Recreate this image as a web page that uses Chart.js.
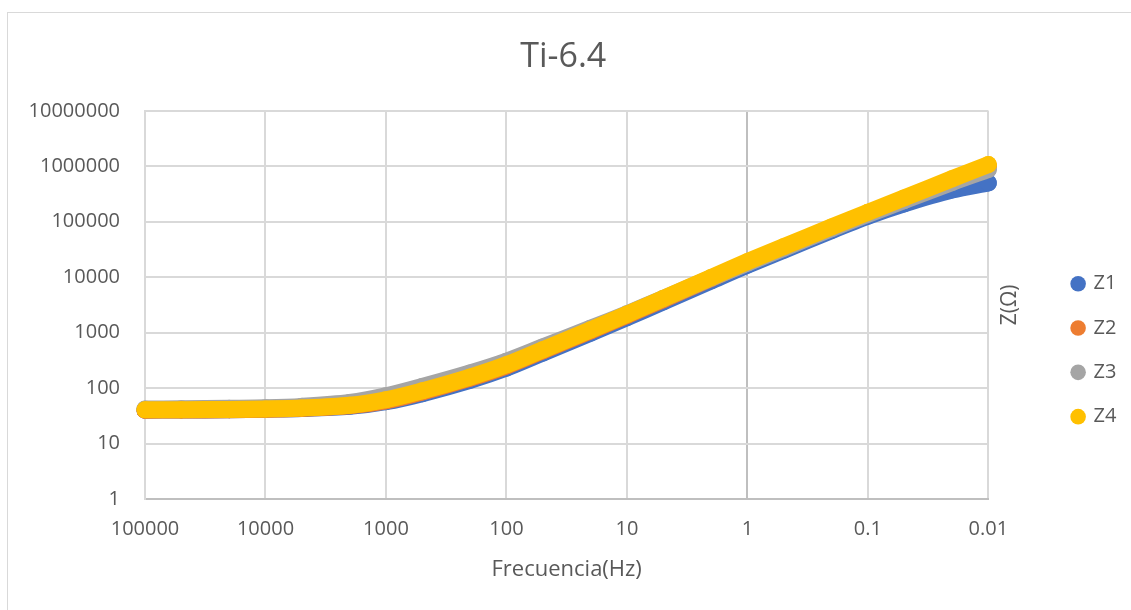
<!DOCTYPE html>
<html lang="es">

<head>
  <meta charset="UTF-8">
  <title>Ti-6.4</title>
  <script src="https://cdn.jsdelivr.net/npm/chart.js"></script>
  <style>
    body {
      margin: 0;
      background: #fff;
      overflow: hidden;
    }

    .frame {
      position: absolute;
      left: 7px;
      top: 12px;
      width: 1200px;
      height: 700px;
      border: 1px solid #d9d9d9;
    }

    .chart-box {
      position: absolute;
      left: 0;
      top: 0;
      width: 1131px;
      height: 610px;
    }
  </style>
</head>

<body>
  <div class="frame"></div>
  <div class="chart-box">
    <canvas id="zChart"></canvas>
  </div>

  <script>
    // frequency (Hz), high to low
    const freq = [100000, 50000, 20000, 10000, 5000, 2000, 1000, 500, 200, 100, 50,
      20, 10, 5, 2, 1, 0.5, 0.2, 0.1, 0.05, 0.02, 0.01];

    // |Z| in ohm
    const z1 = [40.0, 40.3, 40.7, 41.6, 42.7, 46.8, 56.9, 79.4, 138, 229, 427,
      977, 1862, 3560, 8510, 16400, 30500, 69200, 125000, 209000, 372000, 501000];
    const z2 = [40.0, 40.2, 40.7, 41.6, 43.2, 47.9, 58.9, 85.1, 151, 251, 468,
      1072, 2042, 3940, 9460, 18200, 33900, 76700, 141000, 257000, 568000, 1000000];
    const z3 = [41.9, 42.2, 43.2, 44.1, 46.8, 55.0, 72.4, 107, 188, 305, 550,
      1202, 2188, 4120, 9680, 17900, 33100, 75000, 136000, 240000, 510000, 871000];
    const z4 = [40.5, 40.7, 41.2, 42.1, 43.7, 49.0, 61.7, 89.1, 158, 263, 490,
      1122, 2138, 4120, 9890, 19050, 35500, 80400, 147900, 269000, 595000, 1071500];

    const seriesNames = ['Z1', 'Z2', 'Z3', 'Z4'];
    const seriesColors = ['#4472C4', '#ED7D31', '#A5A5A5', '#FFC000'];

    const xTicks = [100000, 10000, 1000, 100, 10, 1, 0.1, 0.01];
    const xTickLabels = ['100000', '10000', '1000', '100', '10', '1', '0.1', '0.01'];
    const yTicks = [1, 10, 100, 1000, 10000, 100000, 1000000, 10000000];
    const yTickLabels = ['1', '10', '100', '1000', '10000', '100000', '1000000', '10000000'];

    const textColor = '#595959';
    const gridColor = '#d9d9d9';

    Chart.defaults.font.family = '"Open Sans", sans-serif';
    Chart.defaults.color = textColor;

    const series = [z1, z2, z3, z4];
    const datasets = series.map((vals, i) => ({
      label: seriesNames[i],
      data: freq.map((f, j) => ({ x: f, y: vals[j] })),
      showLine: true,
      clip: false,
      borderColor: seriesColors[i],
      backgroundColor: seriesColors[i],
      borderWidth: 17,
      borderCapStyle: 'round',
      borderJoinStyle: 'round',
      tension: 0.3,
      pointStyle: 'circle',
      pointRadius: 8.5,
      pointHoverRadius: 8.5,
      pointBorderWidth: 0,
      order: series.length - i   // Z4 on top, Z1 at the bottom
    }));

    // vertical axis title sits between the plot and the legend, reading upward
    const yTitle = {
      id: 'yTitle',
      afterDraw(chart) {
        const { ctx, chartArea } = chart;
        ctx.save();
        ctx.translate(chartArea.right + 22, (chartArea.top + chartArea.bottom) / 2);
        ctx.rotate(-Math.PI / 2);
        ctx.font = '21px "Open Sans", sans-serif';
        ctx.fillStyle = textColor;
        ctx.textAlign = 'center';
        ctx.textBaseline = 'middle';
        ctx.fillText('Z(Ω)', 0, 0);
        ctx.restore();
      }
    };

    new Chart(document.getElementById('zChart'), {
      type: 'scatter',
      data: { datasets },
      plugins: [yTitle],
      options: {
        responsive: true,
        maintainAspectRatio: false,
        animation: false,
        layout: { padding: { left: 0, right: 4.5, top: 0, bottom: 0 } },
        plugins: {
          title: {
            display: true,
            text: 'Ti-6.4',
            color: textColor,
            font: { size: 34, weight: 'normal' },
            padding: { top: 37, bottom: 33 }
          },
          legend: {
            position: 'right',
            title: { display: true, text: '', font: { size: 12 }, padding: 38 },
            labels: {
              usePointStyle: true,
              boxWidth: 11,
              boxHeight: 11,
              padding: 24.3,
              color: textColor,
              font: { size: 20 },
              sort: (a, b) => a.datasetIndex - b.datasetIndex
            }
          },
          tooltip: { enabled: false }
        },
        scales: {
          x: {
            type: 'logarithmic',
            reverse: true,
            min: 0.01,
            max: 100000,
            afterBuildTicks: s => { s.ticks = xTicks.map(v => ({ value: v })); },
            afterFit: s => { s.height = 111; },
            ticks: {
              autoSkip: false,
              maxRotation: 0,
              padding: 18,
              font: { size: 20 },
              callback: v => xTickLabels[xTicks.indexOf(v)]
            },
            grid: {
              drawTicks: false,
              lineWidth: 2,
              color: c => (c.tick && c.tick.value === 1 ? '#bfbfbf' : gridColor)
            },
            border: { color: '#bfbfbf', width: 2 },
            title: {
              display: true,
              text: 'Frecuencia(Hz)',
              font: { size: 22 },
              padding: { top: 0, bottom: 27 }
            }
          },
          y: {
            type: 'logarithmic',
            min: 1,
            max: 10000000,
            afterBuildTicks: s => { s.ticks = yTicks.map(v => ({ value: v })); },
            afterFit: s => { s.width = 145; },
            ticks: {
              autoSkip: false,
              padding: 25,
              font: { size: 20 },
              callback: v => yTickLabels[yTicks.indexOf(v)]
            },
            grid: { drawTicks: false, lineWidth: 2, color: gridColor },
            border: { color: gridColor, width: 2 }
          },
          y2: {
            type: 'linear',
            position: 'right',
            afterFit: s => { s.width = 60; },
            ticks: { display: false },
            grid: { display: false, drawTicks: false },
            border: { display: false }
          }
        }
      }
    });
  </script>
</body>

</html>
